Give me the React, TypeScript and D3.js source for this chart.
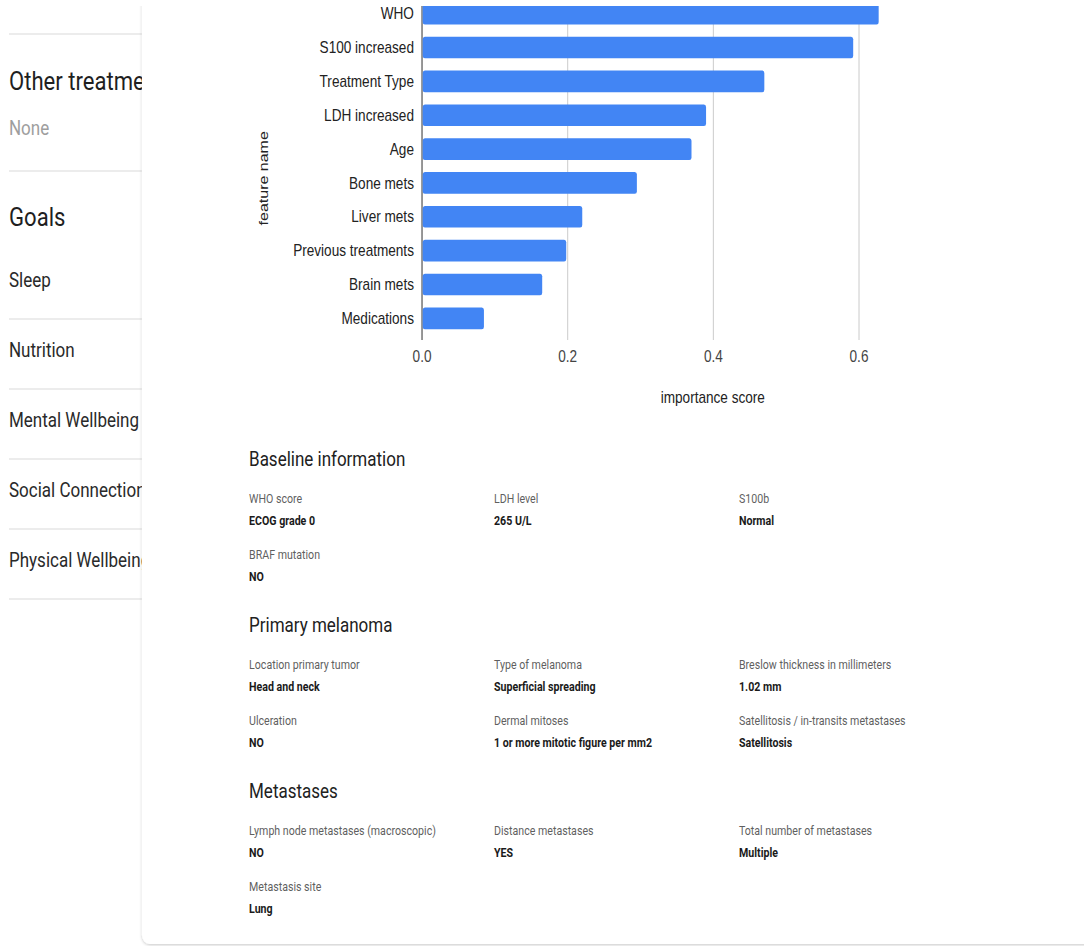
import React from "react";
import * as d3 from "d3";

// ---------- data ----------
const features = [
  "WHO",
  "S100 increased",
  "Treatment Type",
  "LDH increased",
  "Age",
  "Bone mets",
  "Liver mets",
  "Previous treatments",
  "Brain mets",
  "Medications",
];
const importance = [0.627, 0.592, 0.47, 0.39, 0.37, 0.295, 0.22, 0.198, 0.165, 0.085];
const xTicks = [0, 0.2, 0.4, 0.6];
const xTitle = "importance score";
const yTitle = "feature name";

const sidebarHeaders = ["Other treatments", "Goals"];
const sidebarItems = ["Sleep", "Nutrition", "Mental Wellbeing", "Social Connections", "Physical Wellbeing"];

const sectionTitles = ["Baseline information", "Primary melanoma", "Metastases"];
const baselineFields = [
  ["WHO score", "ECOG grade 0"],
  ["LDH level", "265 U/L"],
  ["S100b", "Normal"],
  ["BRAF mutation", "NO"],
];
const primaryFields = [
  ["Location primary tumor", "Head and neck"],
  ["Type of melanoma", "Superficial spreading"],
  ["Breslow thickness in millimeters", "1.02 mm"],
  ["Ulceration", "NO"],
  ["Dermal mitoses", "1 or more mitotic figure per mm2"],
  ["Satellitosis / in-transits metastases", "Satellitosis"],
];
const metastasesFields = [
  ["Lymph node metastases (macroscopic)", "NO"],
  ["Distance metastases", "YES"],
  ["Total number of metastases", "Multiple"],
  ["Metastasis site", "Lung"],
];

// ---------- layout ----------
const SX = 0.85;
const W = 1084 / SX;
const H = 946;
const PANEL_X = 167;
const CHART_FONT = "'Liberation Sans', Arial, Helvetica, sans-serif";
const UI_FONT = "Roboto, 'Noto Sans', sans-serif";

export default function App() {
  const x = d3.scaleLinear().domain([0, 0.6]).range([496.5, 1010.6]);
  const y = d3
    .scaleBand<string>()
    .domain(features)
    .range([-8, 340])
    .paddingInner(0.36)
    .paddingOuter(0.32);
  const plotTop = -8;
  const plotBottom = 340;

  const colX = [293, 581.2, 869.4];

  const renderSection = (
    title: string,
    fields: string[][],
    titleY: number
  ) => {
    const out: React.ReactNode[] = [];
    out.push(
      <text key={title} x={colX[0]} y={titleY} fontSize={20} fill="#212121" fontFamily={UI_FONT}>
        {title}
      </text>
    );
    fields.forEach((f, i) => {
      const row = Math.floor(i / 3);
      const col = i % 3;
      const ly = titleY + 37.5 + row * 56;
      out.push(
        <text key={title + f[0]} x={colX[col]} y={ly} fontSize={12.5} fill="#5f5f5f" fontFamily={UI_FONT}>
          {f[0]}
        </text>
      );
      out.push(
        <text
          key={title + f[0] + "v"}
          x={colX[col]}
          y={ly + 21.5}
          fontSize={12.5}
          fontWeight="bold"
          fill="#1a1a1a"
          fontFamily={UI_FONT}
        >
          {f[1]}
        </text>
      );
    });
    return out;
  };

  const sepYs = [34, 171, 319, 389, 459, 529, 599];
  const itemYs = [287, 357, 427, 497, 567];

  return (
    <svg
      width={1084}
      height={946}
      viewBox={`0 0 ${W} ${H}`}
      preserveAspectRatio="none"
      style={{ position: "absolute", left: 0, top: 0, background: "#fff" }}
    >
      <defs>
        <filter id="shadow" x="-5%" y="-5%" width="110%" height="110%">
          <feDropShadow dx="0" dy="1" stdDeviation="1.6" floodColor="#000" floodOpacity="0.22" />
        </filter>
      </defs>
      <rect x={0} y={0} width={W} height={H} fill="#fff" />

      {/* sidebar */}
      <g fontFamily={UI_FONT}>
        {sepYs.map((sy) => (
          <line key={sy} x1={10.6} x2={PANEL_X} y1={sy} y2={sy} stroke="#e6e6e6" strokeWidth={1.5} />
        ))}
        <text x={10.6} y={90} fontSize={26} fill="#1f1f1f">
          {sidebarHeaders[0]}
        </text>
        <text x={10.6} y={135} fontSize={20} fill="#9e9e9e">
          None
        </text>
        <text x={10.6} y={226} fontSize={26} fill="#1f1f1f">
          {sidebarHeaders[1]}
        </text>
        {sidebarItems.map((s, i) => (
          <text key={s} x={10.6} y={itemYs[i]} fontSize={20} fill="#2a2a2a">
            {s}
          </text>
        ))}
      </g>

      {/* main panel */}
      <rect x={PANEL_X} y={-30} width={1300} height={944 + 30} rx={9} fill="#fff" filter="url(#shadow)" />

      {/* chart */}
      <g fontFamily={CHART_FONT}>
        {xTicks.map((t) => (
          <line
            key={"g" + t}
            x1={x(t)}
            x2={x(t)}
            y1={plotTop}
            y2={plotBottom}
            stroke={t === 0 ? "#333" : "#cccccc"}
            strokeWidth={t === 0 ? 1.2 : 1.2}
          />
        ))}
        {features.map((f, i) => (
          <rect
            key={f}
            x={x(0) + 0.8}
            y={y(f)!}
            width={x(importance[i]) - x(0) - 0.8}
            height={y.bandwidth()}
            rx={2.5}
            fill="#4285f4"
          />
        ))}
        {features.map((f) => (
          <text
            key={"l" + f}
            x={487}
            y={y(f)! + y.bandwidth() / 2}
            dy="0.35em"
            textAnchor="end"
            fontSize={16}
            fill="#222"
          >
            {f}
          </text>
        ))}
        {xTicks.map((t) => (
          <text key={"t" + t} x={x(t)} y={362} textAnchor="middle" fontSize={16} fill="#444">
            {d3.format(".1f")(t)}
          </text>
        ))}
        <text x={838.6} y={403} textAnchor="middle" fontSize={16} fill="#222">
          {xTitle}
        </text>
        <text
          transform={`translate(315.3,178.3) rotate(-90)`}
          textAnchor="middle"
          fontSize={16}
          fill="#222"
        >
          {yTitle}
        </text>
      </g>

      {/* details */}
      {renderSection(sectionTitles[0], baselineFields, 466)}
      {renderSection(sectionTitles[1], primaryFields, 632)}
      {renderSection(sectionTitles[2], metastasesFields, 798)}

      {/* top white strip */}
      <rect x={0} y={0} width={W} height={6} fill="#fff" />
    </svg>
  );
}
